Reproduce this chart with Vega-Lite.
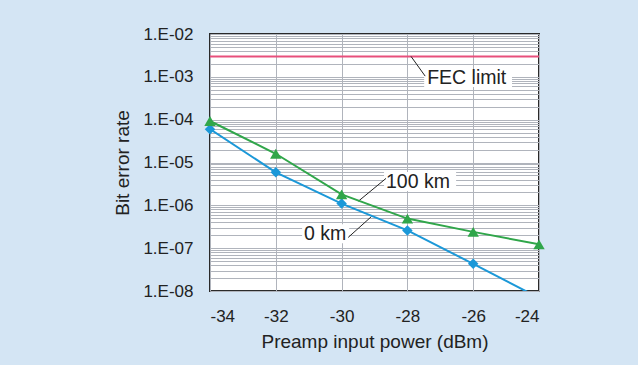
{
  "$schema": "https://vega.github.io/schema/vega-lite/v6.json",
  "width": 329,
  "height": 257,
  "autosize": {"type": "none"},
  "padding": {"left": 210, "top": 34, "right": 99, "bottom": 74},
  "background": "#d4e5f4",
  "config": {
    "view": {"stroke": "#2a2a2a", "strokeWidth": 2, "fill": "white"},
    "font": "Liberation Sans",
    "axis": {
      "labelFont": "Liberation Sans",
      "titleFont": "Liberation Sans",
      "labelColor": "#222",
      "titleColor": "#222",
      "titleFontWeight": "normal",
      "gridColor": "#b0b4bc",
      "gridWidth": 1,
      "gridOpacity": 1,
      "ticks": false,
      "domain": false
    }
  },
  "datasets": {
    "ber": [
      {"power": -34, "ber": 6.0e-5, "series": "0 km"},
      {"power": -32, "ber": 5.9e-6, "series": "0 km"},
      {"power": -30, "ber": 1.1e-6, "series": "0 km"},
      {"power": -28, "ber": 2.6e-7, "series": "0 km"},
      {"power": -26, "ber": 4.3e-8, "series": "0 km"},
      {"power": -24, "ber": 6.9e-9, "series": "0 km"},
      {"power": -34, "ber": 9.3e-5, "series": "100 km"},
      {"power": -32, "ber": 1.6e-5, "series": "100 km"},
      {"power": -30, "ber": 1.8e-6, "series": "100 km"},
      {"power": -28, "ber": 4.9e-7, "series": "100 km"},
      {"power": -26, "ber": 2.4e-7, "series": "100 km"},
      {"power": -24, "ber": 1.23e-7, "series": "100 km"}
    ],
    "fec": [{"ber": 0.003, "from": -34, "to": -24, "label": "FEC limit"}],
    "notes": [
      {"text": "FEC limit", "tx": -27.4, "ty": 9.4e-4, "bx1": -27.49, "bx2": -24.82, "by1": 1.52e-3, "by2": 5.78e-4, "lx1": -27.89, "ly1": 3.0e-3, "lx2": -27.46, "ly2": 1.04e-3},
      {"text": "100 km", "tx": -28.65, "ty": 3.58e-6, "bx1": -28.71, "bx2": -26.52, "by1": 5.97e-6, "by2": 2.15e-6, "lx1": -29.49, "ly1": 1.25e-6, "lx2": -28.65, "ly2": 4.25e-6},
      {"text": "0 km", "tx": -31.14, "ty": 2.18e-7, "bx1": -31.2, "bx2": -29.77, "by1": 3.64e-7, "by2": 1.31e-7, "lx1": -29.8, "ly1": 1.78e-7, "lx2": -29.09, "ly2": 5.5e-7}
    ]
  },
  "encoding": {
    "x": {
      "field": "power", "type": "quantitative",
      "scale": {"domain": [-34, -24], "nice": false, "zero": false},
      "axis": {
        "values": [-34, -32, -30, -28, -26, -24],
        "labelExpr": "'' + datum.value",
        "title": "Preamp input power (dBm)",
        "labelFontSize": 17, "titleFontSize": 19,
        "labelPadding": 17, "titlePadding": 8
      }
    },
    "y": {
      "field": "ber", "type": "quantitative",
      "scale": {"type": "log", "domain": [1e-8, 1e-2], "nice": false},
      "axis": {
        "values": [1e-8, 2e-8, 3e-8, 4e-8, 5e-8, 6e-8, 7e-8, 8e-8, 9e-8,
                   1e-7, 2e-7, 3e-7, 4e-7, 5e-7, 6e-7, 7e-7, 8e-7, 9e-7,
                   1e-6, 2e-6, 3e-6, 4e-6, 5e-6, 6e-6, 7e-6, 8e-6, 9e-6,
                   1e-5, 2e-5, 3e-5, 4e-5, 5e-5, 6e-5, 7e-5, 8e-5, 9e-5,
                   1e-4, 2e-4, 3e-4, 4e-4, 5e-4, 6e-4, 7e-4, 8e-4, 9e-4,
                   1e-3, 2e-3, 3e-3, 4e-3, 5e-3, 6e-3, 7e-3, 8e-3, 9e-3, 1e-2],
        "labelExpr": "abs(log(datum.value)/LN10 - round(log(datum.value)/LN10)) < 0.01 ? '1.E-0' + (-round(log(datum.value)/LN10)) : ''",
        "labelOverlap": false,
        "labelBound": false,
        "title": "Bit error rate",
        "labelFontSize": 17, "titleFontSize": 19,
        "labelPadding": 17, "titlePadding": 10
      }
    }
  },
  "layer": [
    {
      "data": {"name": "notes"},
      "mark": {"type": "rect", "color": "white"},
      "encoding": {
        "x": {"field": "bx1", "type": "quantitative"},
        "x2": {"field": "bx2"},
        "y": {"field": "by1", "type": "quantitative"},
        "y2": {"field": "by2"}
      }
    },
    {
      "data": {"name": "fec"},
      "mark": {"type": "rule", "color": "#e8507c", "strokeWidth": 2},
      "encoding": {
        "x": {"field": "from", "type": "quantitative"},
        "x2": {"field": "to"},
        "y": {"field": "ber", "type": "quantitative"}
      }
    },
    {
      "data": {"name": "notes"},
      "mark": {"type": "rule", "color": "#222", "strokeWidth": 1},
      "encoding": {
        "x": {"field": "lx1", "type": "quantitative"},
        "x2": {"field": "lx2"},
        "y": {"field": "ly1", "type": "quantitative"},
        "y2": {"field": "ly2"}
      }
    },
    {
      "data": {"name": "ber"},
      "mark": {"type": "line", "strokeWidth": 2, "clip": true},
      "encoding": {
        "detail": {"field": "series"},
        "color": {"field": "series", "type": "nominal", "scale": {"domain": ["0 km", "100 km"], "range": ["#1b98d8", "#30a64a"]}, "legend": null}
      }
    },
    {
      "data": {"name": "ber"},
      "transform": [{"filter": "datum.ber >= 1e-8"}],
      "mark": {"type": "point", "filled": true, "opacity": 1},
      "encoding": {
        "color": {"field": "series", "type": "nominal", "scale": {"domain": ["0 km", "100 km"], "range": ["#1b98d8", "#30a64a"]}, "legend": null},
        "shape": {"field": "series", "type": "nominal", "scale": {"domain": ["0 km", "100 km"], "range": ["diamond", "triangle-up"]}, "legend": null},
        "size": {"field": "series", "type": "nominal", "scale": {"domain": ["0 km", "100 km"], "range": [110, 130]}, "legend": null}
      }
    },
    {
      "data": {"name": "notes"},
      "mark": {"type": "text", "align": "left", "baseline": "middle", "fontSize": 19.5, "color": "#222", "font": "Liberation Sans"},
      "encoding": {
        "x": {"field": "tx", "type": "quantitative"},
        "y": {"field": "ty", "type": "quantitative"},
        "text": {"field": "text"}
      }
    }
  ]
}
